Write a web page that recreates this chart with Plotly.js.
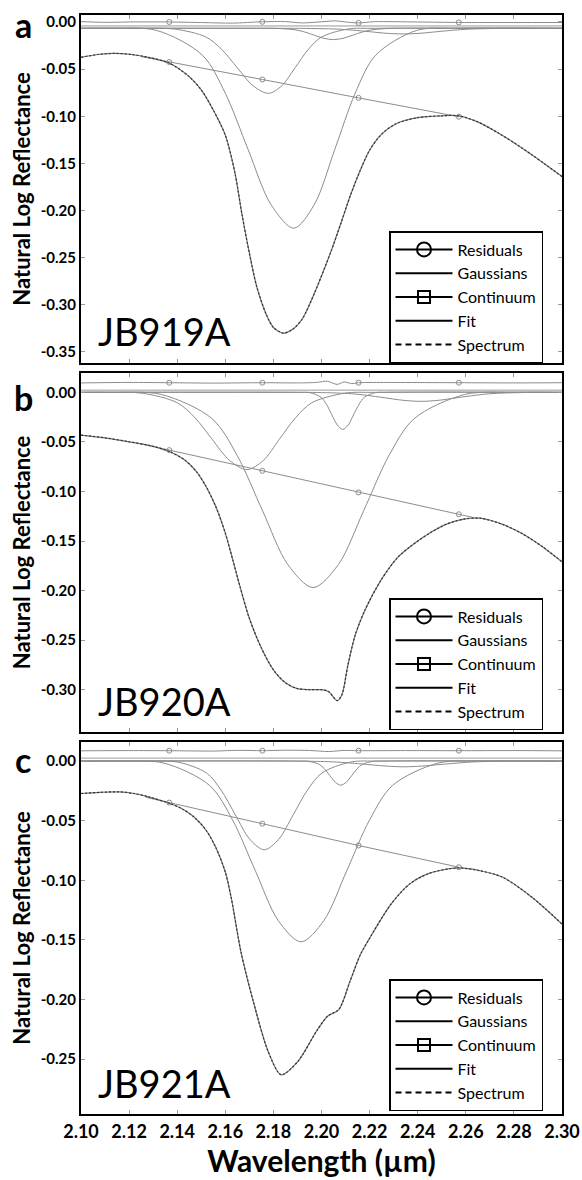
<!DOCTYPE html>
<html>
<head>
<meta charset="utf-8">
<script src="https://cdn.plot.ly/plotly-3.0.1.min.js"></script>
<style>html,body{margin:0;padding:0;background:#fff;}#chart{width:582px;height:1180px;}</style>
</head>
<body>
<div id="chart"></div>
<script>
// ---------- shared ----------
const xTickVals = [2.10,2.12,2.14,2.16,2.18,2.20,2.22,2.24,2.26,2.28,2.30];
const xTickText = ["2.10","2.12","2.14","2.16","2.18","2.20","2.22","2.24","2.26","2.28","2.30"];
const yTickVals_A = [0,-0.05,-0.10,-0.15,-0.20,-0.25,-0.30,-0.35];
const yTickText_A = ["0.00","-0.05","-0.10","-0.15","-0.20","-0.25","-0.30","-0.35"];
const yTickVals_B = [0,-0.05,-0.10,-0.15,-0.20,-0.25,-0.30];
const yTickText_B = ["0.00","-0.05","-0.10","-0.15","-0.20","-0.25","-0.30"];
const yTickVals_C = [0,-0.05,-0.10,-0.15,-0.20,-0.25];
const yTickText_C = ["0.00","-0.05","-0.10","-0.15","-0.20","-0.25"];
const markX = [2.1367,2.1754,2.2154,2.2571];
const lineX = [2.10,2.30];
const sampleNames = ["JB919A","JB920A","JB921A"];
const panelLetters = ["a","b","c"];
const legendNames = ["Residuals","Gaussians","Continuum","Fit","Spectrum"];

// ---------- panel a : JB919A ----------
const specX_A = [2.100,2.107,2.114,2.121,2.129,2.137,2.145,2.150,2.155,2.160,2.164,2.167,2.170,2.173,2.177,2.180,2.184,2.188,2.192,2.197,2.204,2.208,2.212,2.216,2.220,2.225,2.231,2.240,2.250,2.257,2.265,2.273,2.280,2.287,2.293,2.300];
const specY_A = [-0.0375,-0.0345,-0.0333,-0.0345,-0.0380,-0.0440,-0.0580,-0.0720,-0.0934,-0.1200,-0.1600,-0.2050,-0.2450,-0.2800,-0.3100,-0.3240,-0.3300,-0.3260,-0.3150,-0.2880,-0.2430,-0.2140,-0.1840,-0.1580,-0.1360,-0.1190,-0.1080,-0.1015,-0.0995,-0.0995,-0.1060,-0.1170,-0.1280,-0.1400,-0.1510,-0.1640];
const resX_A = [2.100,2.110,2.120,2.1367,2.150,2.163,2.1754,2.185,2.192,2.200,2.206,2.210,2.2154,2.222,2.240,2.2571,2.280,2.300];
const resY_A = [0.0004,-0.0004,0.0000,0.0000,-0.0006,-0.0012,0.0002,0.0004,-0.0010,0.0002,0.0012,0.0000,-0.0010,0.0003,0.0000,-0.0005,-0.0006,-0.0006];
const resMarkY_A = [0.0000,0.0002,-0.0010,-0.0005];
const flatY_A = [-0.0042,-0.0042];
const g1X_A = [2.100,2.126,2.139,2.152,2.1585,2.165,2.1715,2.178,2.1835,2.189,2.1945,2.200,2.211,2.222,2.300];
const g1Y_A = [-0.0067,-0.0067,-0.0075,-0.0160,-0.0291,-0.0486,-0.0676,-0.0757,-0.0676,-0.0486,-0.0291,-0.0160,-0.0075,-0.0067,-0.0067];
const g2X_A = [2.100,2.1125,2.1315,2.1505,2.160,2.1695,2.179,2.1885,2.197,2.2055,2.214,2.2225,2.2395,2.2565,2.300];
const g2Y_A = [-0.0067,-0.0067,-0.0090,-0.0353,-0.0756,-0.1354,-0.1937,-0.2187,-0.1937,-0.1354,-0.0756,-0.0353,-0.0090,-0.0067,-0.0067];
const g3X_A = [2.100,2.173,2.181,2.189,2.193,2.197,2.201,2.205,2.209,2.213,2.217,2.221,2.229,2.237,2.300];
const g3Y_A = [-0.0067,-0.0067,-0.0068,-0.0083,-0.0106,-0.0140,-0.0173,-0.0187,-0.0173,-0.0140,-0.0106,-0.0083,-0.0068,-0.0067,-0.0067];
const g4X_A = [2.100,2.178,2.192,2.206,2.213,2.220,2.227,2.234,2.241,2.248,2.255,2.262,2.276,2.290,2.300];
const g4Y_A = [-0.0067,-0.0067,-0.0068,-0.0075,-0.0087,-0.0103,-0.0120,-0.0127,-0.0120,-0.0103,-0.0087,-0.0075,-0.0068,-0.0067,-0.0067];
const contX_A = [2.125,2.1367,2.1754,2.2154,2.2571];
const contY_A = [-0.0367,-0.0425,-0.0610,-0.0805,-0.1005];
const contMarkY_A = [-0.0425,-0.0610,-0.0805,-0.1005];

// ---------- panel b : JB920A ----------
const specX_B = [2.100,2.110,2.120,2.130,2.137,2.143,2.148,2.152,2.156,2.160,2.163,2.166,2.170,2.175,2.180,2.185,2.190,2.195,2.200,2.203,2.2065,2.2085,2.211,2.214,2.218,2.2246,2.2315,2.2367,2.245,2.252,2.259,2.266,2.275,2.283,2.292,2.300];
const specY_B = [-0.0431,-0.0460,-0.0499,-0.0545,-0.0600,-0.0680,-0.0800,-0.0950,-0.1150,-0.1420,-0.1680,-0.1950,-0.2280,-0.2580,-0.2800,-0.2930,-0.2990,-0.3000,-0.3000,-0.3020,-0.3110,-0.3050,-0.2750,-0.2450,-0.2200,-0.1900,-0.1670,-0.1560,-0.1420,-0.1330,-0.1280,-0.1270,-0.1330,-0.1420,-0.1560,-0.1710];
const resX_B = [2.100,2.120,2.1367,2.155,2.1754,2.190,2.198,2.2025,2.2065,2.2095,2.2125,2.2154,2.235,2.2571,2.280,2.300];
const resY_B = [0.0095,0.0100,0.0097,0.0093,0.0097,0.0095,0.0100,0.0112,0.0080,0.0105,0.0088,0.0097,0.0099,0.0097,0.0095,0.0097];
const resMarkY_B = [0.0097,0.0097,0.0097,0.0097];
const flatY_B = [0.0022,0.0022];
const g1X_B = [2.100,2.111,2.1255,2.140,2.1473,2.1545,2.1618,2.169,2.1758,2.1825,2.1893,2.196,2.2095,2.223,2.300];
const g1Y_B = [0,0,-0.0009,-0.0105,-0.0254,-0.0473,-0.0688,-0.0780,-0.0688,-0.0473,-0.0254,-0.0105,-0.0009,0,0];
const g2X_B = [2.100,2.1125,2.1335,2.1545,2.165,2.1755,2.186,2.1965,2.207,2.2175,2.228,2.2385,2.2595,2.2805,2.300];
const g2Y_B = [0,0,-0.0022,-0.0266,-0.0640,-0.1196,-0.1738,-0.1970,-0.1738,-0.1196,-0.0640,-0.0266,-0.0022,0,0];
const g3X_B = [2.100,2.1908,2.1953,2.1998,2.2021,2.2043,2.2066,2.2088,2.2111,2.2133,2.2156,2.2178,2.2223,2.2268,2.300];
const g3Y_B = [0,0,-0.0004,-0.0050,-0.0122,-0.0227,-0.0330,-0.0374,-0.0330,-0.0227,-0.0122,-0.0050,-0.0004,0,0];
const g4X_B = [2.100,2.1813,2.1963,2.2113,2.2188,2.2263,2.2338,2.2413,2.2488,2.2563,2.2638,2.2713,2.2863,2.300];
const g4Y_B = [0,0,-0.0001,-0.0012,-0.0030,-0.0055,-0.0080,-0.0091,-0.0080,-0.0055,-0.0030,-0.0012,-0.0001,0];
const contX_B = [2.125,2.1367,2.1754,2.2154,2.2571,2.265];
const contY_B = [-0.0520,-0.0583,-0.0792,-0.1010,-0.1230,-0.1273];
const contMarkY_B = [-0.0583,-0.0792,-0.1010,-0.1230];

// ---------- panel c : JB921A ----------
const specX_C = [2.100,2.108,2.116,2.122,2.128,2.137,2.142,2.147,2.152,2.156,2.160,2.1625,2.1665,2.1716,2.1778,2.1832,2.1902,2.1979,2.2025,2.2072,2.2118,2.216,2.2196,2.2289,2.2367,2.245,2.2567,2.266,2.2754,2.288,2.300];
const specY_C = [-0.0272,-0.0262,-0.0258,-0.0272,-0.0300,-0.0356,-0.0400,-0.0469,-0.0580,-0.0722,-0.0930,-0.1150,-0.1600,-0.2013,-0.2435,-0.2631,-0.2519,-0.2266,-0.2140,-0.2084,-0.1850,-0.1630,-0.1500,-0.1200,-0.1030,-0.0940,-0.0896,-0.0920,-0.0975,-0.1150,-0.1367];
const resX_C = [2.100,2.120,2.1367,2.155,2.165,2.1754,2.185,2.195,2.203,2.209,2.2154,2.235,2.2571,2.280,2.300];
const resY_C = [0.0086,0.0088,0.0087,0.0084,0.0090,0.0087,0.0091,0.0089,0.0080,0.0089,0.0087,0.0088,0.0087,0.0088,0.0086];
const resMarkY_C = [0.0087,0.0087,0.0087,0.0087];
const flatY_C = [0.0025,0.0025];
const g1X_C = [2.100,2.1282,2.1402,2.1522,2.1582,2.1642,2.1702,2.1762,2.1822,2.1882,2.1942,2.2002,2.2122,2.2242,2.300];
const g1Y_C = [0,0,-0.0008,-0.0100,-0.0242,-0.0452,-0.0656,-0.0744,-0.0656,-0.0452,-0.0242,-0.0100,-0.0008,0,0];
const g2X_C = [2.100,2.1155,2.1345,2.1535,2.163,2.1725,2.182,2.1915,2.201,2.2105,2.220,2.2295,2.2485,2.2675,2.300];
const g2Y_C = [0,0,-0.0017,-0.0205,-0.0493,-0.0920,-0.1337,-0.1516,-0.1337,-0.0920,-0.0493,-0.0205,-0.0017,0,0];
const g3X_C = [2.100,2.190,2.1945,2.199,2.2013,2.2035,2.2058,2.208,2.2103,2.2125,2.2148,2.217,2.2215,2.226,2.300];
const g3Y_C = [0,0,-0.0002,-0.0027,-0.0066,-0.0123,-0.0178,-0.0202,-0.0178,-0.0123,-0.0066,-0.0027,-0.0002,0,0];
const g4X_C = [2.100,2.1893,2.2043,2.2118,2.2193,2.2268,2.2343,2.2418,2.2493,2.2568,2.2643,2.2793,2.300];
const g4Y_C = [0,0,-0.0006,-0.0016,-0.0029,-0.0042,-0.0048,-0.0042,-0.0029,-0.0016,-0.0006,0,0];
const contX_C = [2.127,2.1367,2.1754,2.2154,2.2571];
const contY_C = [-0.0304,-0.0348,-0.0525,-0.0708,-0.0890];
const contMarkY_C = [-0.0348,-0.0525,-0.0708,-0.0890];

// ---------- build ----------
const GRAY = '#8c8c8c';
const FONT = 'Lato, "Open Sans", sans-serif';
const panels = [
  {ax:'', spec:[specX_A,specY_A], res:[resX_A,resY_A], resMark:resMarkY_A, flat:flatY_A,
   g:[[g1X_A,g1Y_A],[g2X_A,g2Y_A],[g3X_A,g3Y_A],[g4X_A,g4Y_A]], cont:[contX_A,contY_A], contMark:contMarkY_A},
  {ax:'2', spec:[specX_B,specY_B], res:[resX_B,resY_B], resMark:resMarkY_B, flat:flatY_B,
   g:[[g1X_B,g1Y_B],[g2X_B,g2Y_B],[g3X_B,g3Y_B],[g4X_B,g4Y_B]], cont:[contX_B,contY_B], contMark:contMarkY_B},
  {ax:'3', spec:[specX_C,specY_C], res:[resX_C,resY_C], resMark:resMarkY_C, flat:flatY_C,
   g:[[g1X_C,g1Y_C],[g2X_C,g2Y_C],[g3X_C,g3Y_C],[g4X_C,g4Y_C]], cont:[contX_C,contY_C], contMark:contMarkY_C}
];

const traces = [];
panels.forEach((p, i) => {
  const xa = 'x' + p.ax, ya = 'y' + p.ax, lg = 'legend' + p.ax;
  const base = {xaxis: xa, yaxis: ya, showlegend: false, hoverinfo: 'skip'};
  traces.push(Object.assign({type:'scatter', mode:'lines', x:lineX, y:p.flat, line:{color:'#9a9a9a', width:1}}, base));
  p.g.forEach(g => traces.push(Object.assign({type:'scatter', mode:'lines', x:g[0], y:g[1],
    line:{color:GRAY, width:1, shape:'spline', smoothing:0.9}}, base)));
  traces.push(Object.assign({type:'scatter', mode:'lines', x:p.res[0], y:p.res[1],
    line:{color:GRAY, width:1, shape:'spline', smoothing:0.8}}, base));
  traces.push(Object.assign({type:'scatter', mode:'markers', x:markX, y:p.resMark,
    marker:{symbol:'circle-open', size:5, color:GRAY, line:{width:1}}}, base));
  traces.push(Object.assign({type:'scatter', mode:'lines', x:p.cont[0], y:p.cont[1],
    line:{color:GRAY, width:1}}, base));
  traces.push(Object.assign({type:'scatter', mode:'markers', x:markX, y:p.contMark,
    marker:{symbol:'circle-open', size:5, color:GRAY, line:{width:1}}}, base));
  // fit (indistinguishable from the spectrum at this scale)
  traces.push(Object.assign({type:'scatter', mode:'lines', x:p.spec[0], y:p.spec[1],
    line:{color:'#777', width:1.2, shape:'spline', smoothing:0.8}}, base));
  traces.push(Object.assign({type:'scatter', mode:'lines', x:p.spec[0], y:p.spec[1],
    line:{color:'#333', width:1.2, dash:'2px,2px', shape:'spline', smoothing:0.8}}, base));

  const lbase = {type:'scatter', x:[null], y:[null], xaxis:xa, yaxis:ya, legend:lg, showlegend:true, hoverinfo:'skip'};
  traces.push(Object.assign({}, lbase, {name:legendNames[0], mode:'lines+markers',
    line:{color:'#000', width:2}, marker:{symbol:'circle-open', size:14, color:'#000', line:{width:2}}}));
  traces.push(Object.assign({}, lbase, {name:legendNames[1], mode:'lines', line:{color:'#000', width:2}}));
  traces.push(Object.assign({}, lbase, {name:legendNames[2], mode:'lines+markers',
    line:{color:'#000', width:2}, marker:{symbol:'square-open', size:12, color:'#000', line:{width:2}}}));
  traces.push(Object.assign({}, lbase, {name:legendNames[3], mode:'lines', line:{color:'#000', width:2}}));
  traces.push(Object.assign({}, lbase, {name:legendNames[4], mode:'lines', line:{color:'#000', width:2, dash:'6px,4px'}}));
});

const W = 582, H = 1180;
const px = v => v / W;
const py = v => 1 - v / H;
const xDom = [px(81), px(562)];

function xAxis(anchor, showLabels) {
  const a = {domain:xDom, anchor:anchor, range:[2.10,2.30], tickmode:'array', tickvals:xTickVals, ticktext:xTickText,
    showticklabels:showLabels, ticks:'inside', ticklen:4, tickcolor:'#999', tickwidth:1,
    showline:true, linecolor:'#000', linewidth:2, mirror:'ticks', showgrid:false, zeroline:false,
    tickfont:{family:FONT, size:18, weight:'bold', color:'#000'}};
  if (showLabels) a.title = {text:'Wavelength (µm)', font:{family:FONT, size:30, weight:'bold', color:'#000'}, standoff:6};
  return a;
}
function yAxis(anchor, dom, range, tv, tt) {
  return {domain:dom, anchor:anchor, range:range, tickmode:'array', tickvals:tv, ticktext:tt,
    ticks:'inside', ticklen:4, tickcolor:'#999', tickwidth:1,
    showline:true, linecolor:'#000', linewidth:2, mirror:'ticks', showgrid:false, zeroline:false,
    tickfont:{family:FONT, size:15, weight:'bold', color:'#000'},
    title:{text:'Natural Log Reflectance', font:{family:FONT, size:22, weight:'bold', color:'#000'}, standoff:4}};
}
function legendAt(top) {
  return {x:px(389), y:py(top), xanchor:'left', yanchor:'top', bgcolor:'#fff', bordercolor:'#000', borderwidth:1.5,
    font:{family:FONT, size:16, color:'#000'}, itemwidth:57, tracegroupgap:0, itemclick:false, itemdoubleclick:false};
}

const annotations = [];
const letterY = [25, 397, 759];
const nameY = [331, 701, 1083];
[0,1,2].forEach(i => {
  annotations.push({xref:'paper', yref:'paper', x:px(23), y:py(letterY[i]), xanchor:'center', yanchor:'middle',
    text:panelLetters[i], showarrow:false, font:{family:FONT, size:34, weight:'bold', color:'#000'}});
  annotations.push({xref:'paper', yref:'paper', x:px(96), y:py(nameY[i]), xanchor:'left', yanchor:'middle',
    text:sampleNames[i], showarrow:false, font:{family:FONT, size:38, color:'#000'}});
});

const layout = {
  width:W, height:H, margin:{l:0, r:0, t:0, b:0}, paper_bgcolor:'#fff', plot_bgcolor:'#fff',
  showlegend:true, hovermode:false,
  xaxis:xAxis('y', false), xaxis2:xAxis('y2', false), xaxis3:xAxis('y3', true),
  yaxis:yAxis('x', [py(363), py(15)], [-0.3617, 0.0074], yTickVals_A, yTickText_A),
  yaxis2:yAxis('x2', [py(732), py(373)], [-0.3427, 0.0195], yTickVals_B, yTickText_B),
  yaxis3:yAxis('x3', [py(1114), py(742)], [-0.296, 0.016], yTickVals_C, yTickText_C),
  legend:legendAt(231), legend2:legendAt(598), legend3:legendAt(979),
  annotations:annotations
};

Plotly.newPlot('chart', traces, layout, {staticPlot:true, displayModeBar:false});
</script>
</body>
</html>
